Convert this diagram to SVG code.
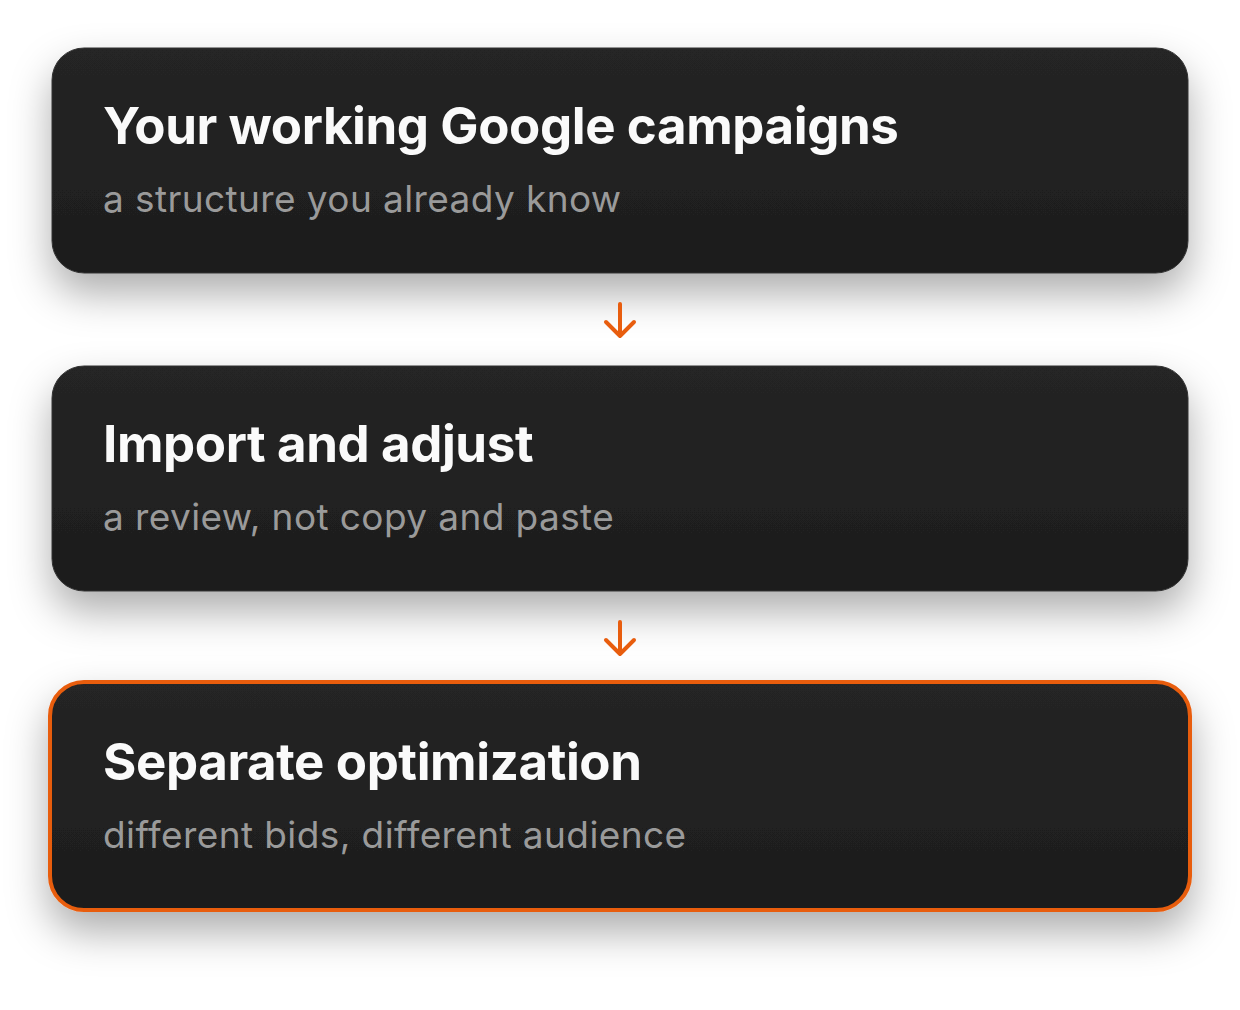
<svg xmlns="http://www.w3.org/2000/svg" width="1240" height="1010" viewBox="0 0 1240 1010">
<defs>
<linearGradient id="bg" x1="0" y1="0" x2="0" y2="1"><stop offset="0" stop-color="#252525"/><stop offset="1" stop-color="#1d1d1d"/></linearGradient>
<filter id="sh" x="-10%" y="-30%" width="120%" height="180%"><feDropShadow dx="0" dy="20" stdDeviation="20" flood-color="#000" flood-opacity="0.32"/></filter>
</defs>
<style>
.box{fill:url(#bg);stroke:#333;stroke-width:1}
.hl{stroke:#e85d0e;stroke-width:4}
.t{font-family:Inter,"Liberation Sans",sans-serif;font-weight:700;font-size:51px;fill:#fafafa;letter-spacing:-0.4px}
.s{font-family:Inter,"Liberation Sans",sans-serif;font-size:37px;fill:#9a9a9a;letter-spacing:0.4px}
.ar{fill:none;stroke:#e85d0e;stroke-width:4;stroke-linecap:round;stroke-linejoin:round}
</style>
<rect width="1240" height="1010" fill="#fff"/>
<g id="n1"><rect class="box" x="52" y="48" width="1136" height="225" rx="32" filter="url(#sh)"/><text class="t" x="103" y="144">Your working Google campaigns</text><text class="s" x="103" y="212">a structure you already know</text></g>
<g id="n2"><rect class="box" x="52" y="366" width="1136" height="225" rx="32" filter="url(#sh)"/><text class="t" x="103" y="462">Import and adjust</text><text class="s" x="103" y="530">a review, not copy and paste</text></g>
<g id="n3"><rect class="box hl" x="50" y="682" width="1140" height="228" rx="34" filter="url(#sh)"/><text class="t" x="103" y="780">Separate optimization</text><text class="s" x="103" y="848">different bids, different audience</text></g>
<g id="connectors">
<path class="ar" d="M620 304V336M606 322L620 336L634 322"/>
<path class="ar" d="M620 622V654M606 640L620 654L634 640"/>
</g>
</svg>
